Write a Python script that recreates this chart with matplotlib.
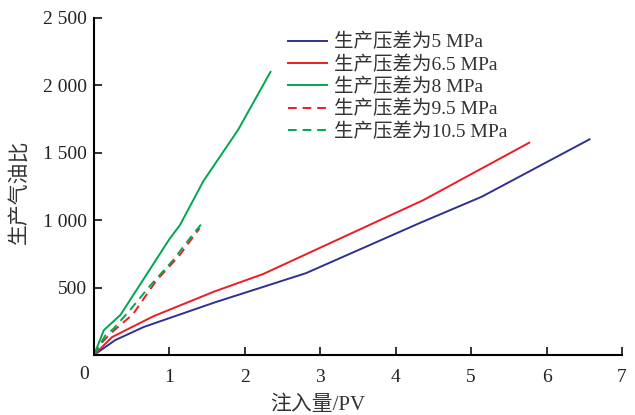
import numpy as np
import matplotlib
matplotlib.use("Agg")
import matplotlib.pyplot as plt

plt.rcParams['font.family'] = ['Liberation Serif', 'Noto Sans CJK SC', 'DejaVu Sans']

# injected volume (PV) vs producing gas-oil ratio
x_5 = [0, 0.28, 0.66, 1.6, 2.81, 4.31, 5.14, 6.57]
y_5 = [0, 110, 208, 390, 607, 977, 1174, 1600]

x_65 = [0, 0.24, 0.79, 1.6, 2.24, 4.37, 5.77]
y_65 = [0, 133, 288, 472, 600, 1150, 1575]

x_8 = [0, 0.13, 0.35, 0.55, 1.0, 1.14, 1.45, 1.91, 2.34]
y_8 = [0, 184, 297, 470, 860, 964, 1290, 1670, 2100]

x_95 = [0, 0.09, 0.22, 0.52, 0.83, 1.12, 1.4]
y_95 = [0, 84, 160, 305, 555, 730, 940]

x_105 = [0, 0.15, 0.26, 0.48, 0.75, 1.05, 1.27, 1.45]
y_105 = [0, 145, 196, 335, 518, 704, 865, 990]

labels = ["生产压差为5 MPa", "生产压差为6.5 MPa", "生产压差为8 MPa",
          "生产压差为9.5 MPa", "生产压差为10.5 MPa"]

xticks = [1, 2, 3, 4, 5, 6, 7]
yticks = [500, 1000, 1500, 2000, 2500]
ytick_labels = ["500", "1 000", "1 500", "2 000", "2 500"]

BLUE = "#2e3192"
RED = "#ed1c24"
GREEN = "#00a651"

fig = plt.figure(figsize=(6.35, 4.15), dpi=100)
ax = fig.add_axes([94/635, 1 - 355/415, (622-94)/635, (355-18)/415])

lw = 1.4
dash = (0, (4.5, 3))
ax.plot(x_5, y_5, c=BLUE, lw=lw, label=labels[0])
ax.plot(x_65, y_65, c=RED, lw=lw, label=labels[1])
ax.plot(x_8, y_8, c=GREEN, lw=lw, label=labels[2])
ax.plot(x_95, y_95, c=RED, lw=lw, ls=dash, label=labels[3])
ax.plot(x_105, y_105, c=GREEN, lw=lw, ls=dash, label=labels[4])

ax.set_xlim(0, 7)
ax.set_ylim(0, 2500)
ax.set_xticks(xticks)
ax.set_xticklabels([str(t) for t in xticks])
ax.set_yticks(yticks)
ax.set_yticklabels(ytick_labels)
ax.tick_params(direction="in", length=6, width=1.3, labelsize=14, colors="#222222")
ax.tick_params(axis="x", pad=10)
ax.tick_params(axis="y", pad=5)
ax.text(-0.13, -0.032, "0", transform=ax.get_xaxis_transform(), ha="center", va="top",
        fontsize=14, color="#222222")

for s in ["top", "right"]:
    ax.spines[s].set_visible(False)
for s in ["left", "bottom"]:
    ax.spines[s].set_linewidth(1.5)

fig.text(20/635, 1 - 192/415, "生产气油比", rotation=90, ha="center", va="center", fontsize=15,
         color="#333333", fontweight="light")
fig.text(318/635, 1 - 405/415, "注入量/PV", ha="center", va="center", fontsize=15,
         color="#333333", fontweight="light")

leg = ax.legend(loc="upper left", bbox_to_anchor=(288/635, 1 - 33/415), bbox_transform=fig.transFigure,
                frameon=False, fontsize=14, handlelength=2.0, handletextpad=0.35, labelspacing=0.2,
                borderpad=0, borderaxespad=0, labelcolor="#333333")
for t in leg.get_texts():
    t.set_fontweight("light")

fig.savefig("out.png", dpi=100)
